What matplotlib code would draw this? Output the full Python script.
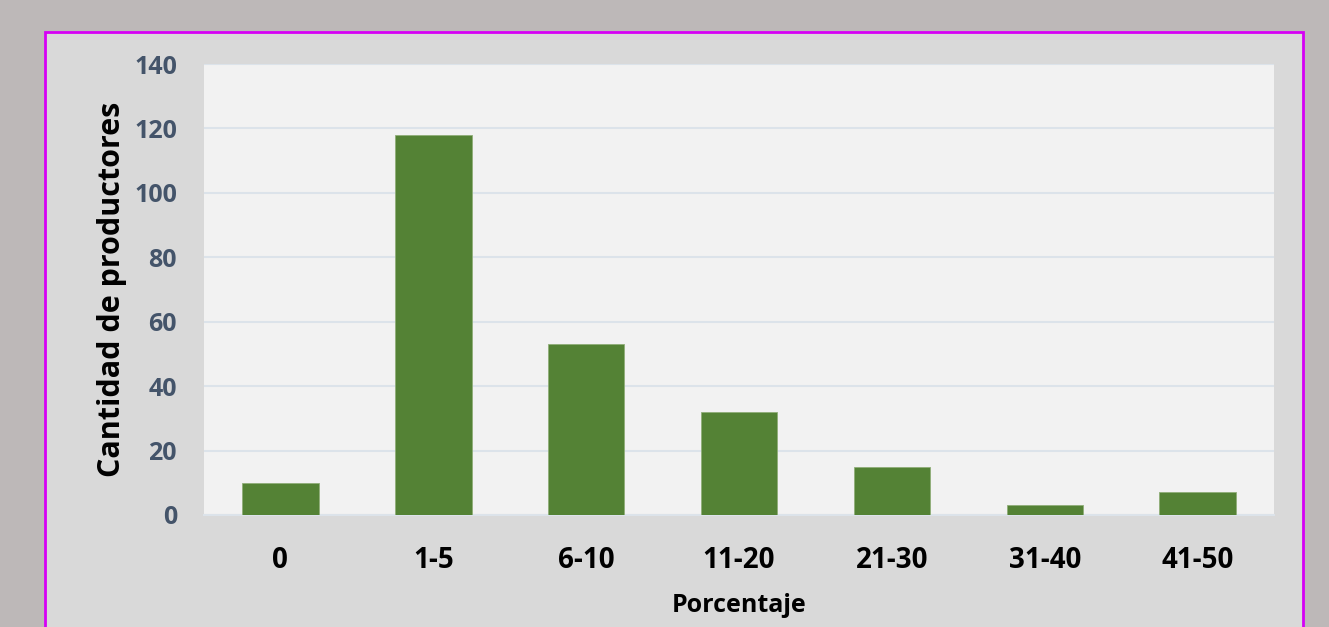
import matplotlib
matplotlib.use('Agg')
import matplotlib.pyplot as plt
from matplotlib.patches import Rectangle

# datos
categorias = ['0', '1-5', '6-10', '11-20', '21-30', '31-40', '41-50']
productores = [10, 118, 53, 32, 15, 3, 7]
yticks = [0, 20, 40, 60, 80, 100, 120, 140]

plt.rcParams['font.family'] = ['Open Sans', 'DejaVu Sans']

W, H = 1329, 627
fig = plt.figure(figsize=(W / 100, H / 100), dpi=100)
fig.patch.set_facecolor('#bdb8b8')

# recuadro gris con borde magenta (debajo de los ejes)
box = Rectangle((45 / W, -0.05), (1303 - 45) / W, 1.05 - 32 / H,
                transform=fig.transFigure, facecolor='#d9d9d9',
                edgecolor='#d600f5', linewidth=2, zorder=-5)
fig.patches.append(box)

ax = fig.add_axes([204 / W, (H - 515) / H, (1274 - 204) / W, (515 - 64) / H])
ax.set_zorder(1)
ax.set_facecolor('#f2f2f2')
x = range(len(categorias))
ax.bar(x, productores, width=0.5, color='#548235', edgecolor='#8fae78',
       linewidth=0.6, zorder=3)

ax.set_xlim(-0.5, len(categorias) - 0.5)
ax.set_ylim(0, 140)
ax.set_yticks(yticks)
ax.set_xticks(list(x))
ax.set_xticklabels(categorias)
ax.grid(axis='y', color='#dce3ea', linewidth=1.5, zorder=0)
for s in ['top', 'right', 'left']:
    ax.spines[s].set_visible(False)
ax.spines['bottom'].set_color('#dce3ea')
ax.spines['bottom'].set_linewidth(1.5)
ax.tick_params(length=0)
ax.tick_params(axis='y', labelsize=18, labelcolor='#44546a', pad=19.5)
ax.tick_params(axis='x', labelsize=20, labelcolor='black', pad=22.5)
for t in ax.get_yticklabels() + ax.get_xticklabels():
    t.set_fontweight('bold')

ax.set_ylabel('Cantidad de productores', fontsize=22, fontweight='bold', labelpad=5)
ax.set_xlabel('Porcentaje', fontsize=18, fontweight='bold', labelpad=12.5)

fig.savefig('out.png', dpi=100, facecolor=fig.get_facecolor())
